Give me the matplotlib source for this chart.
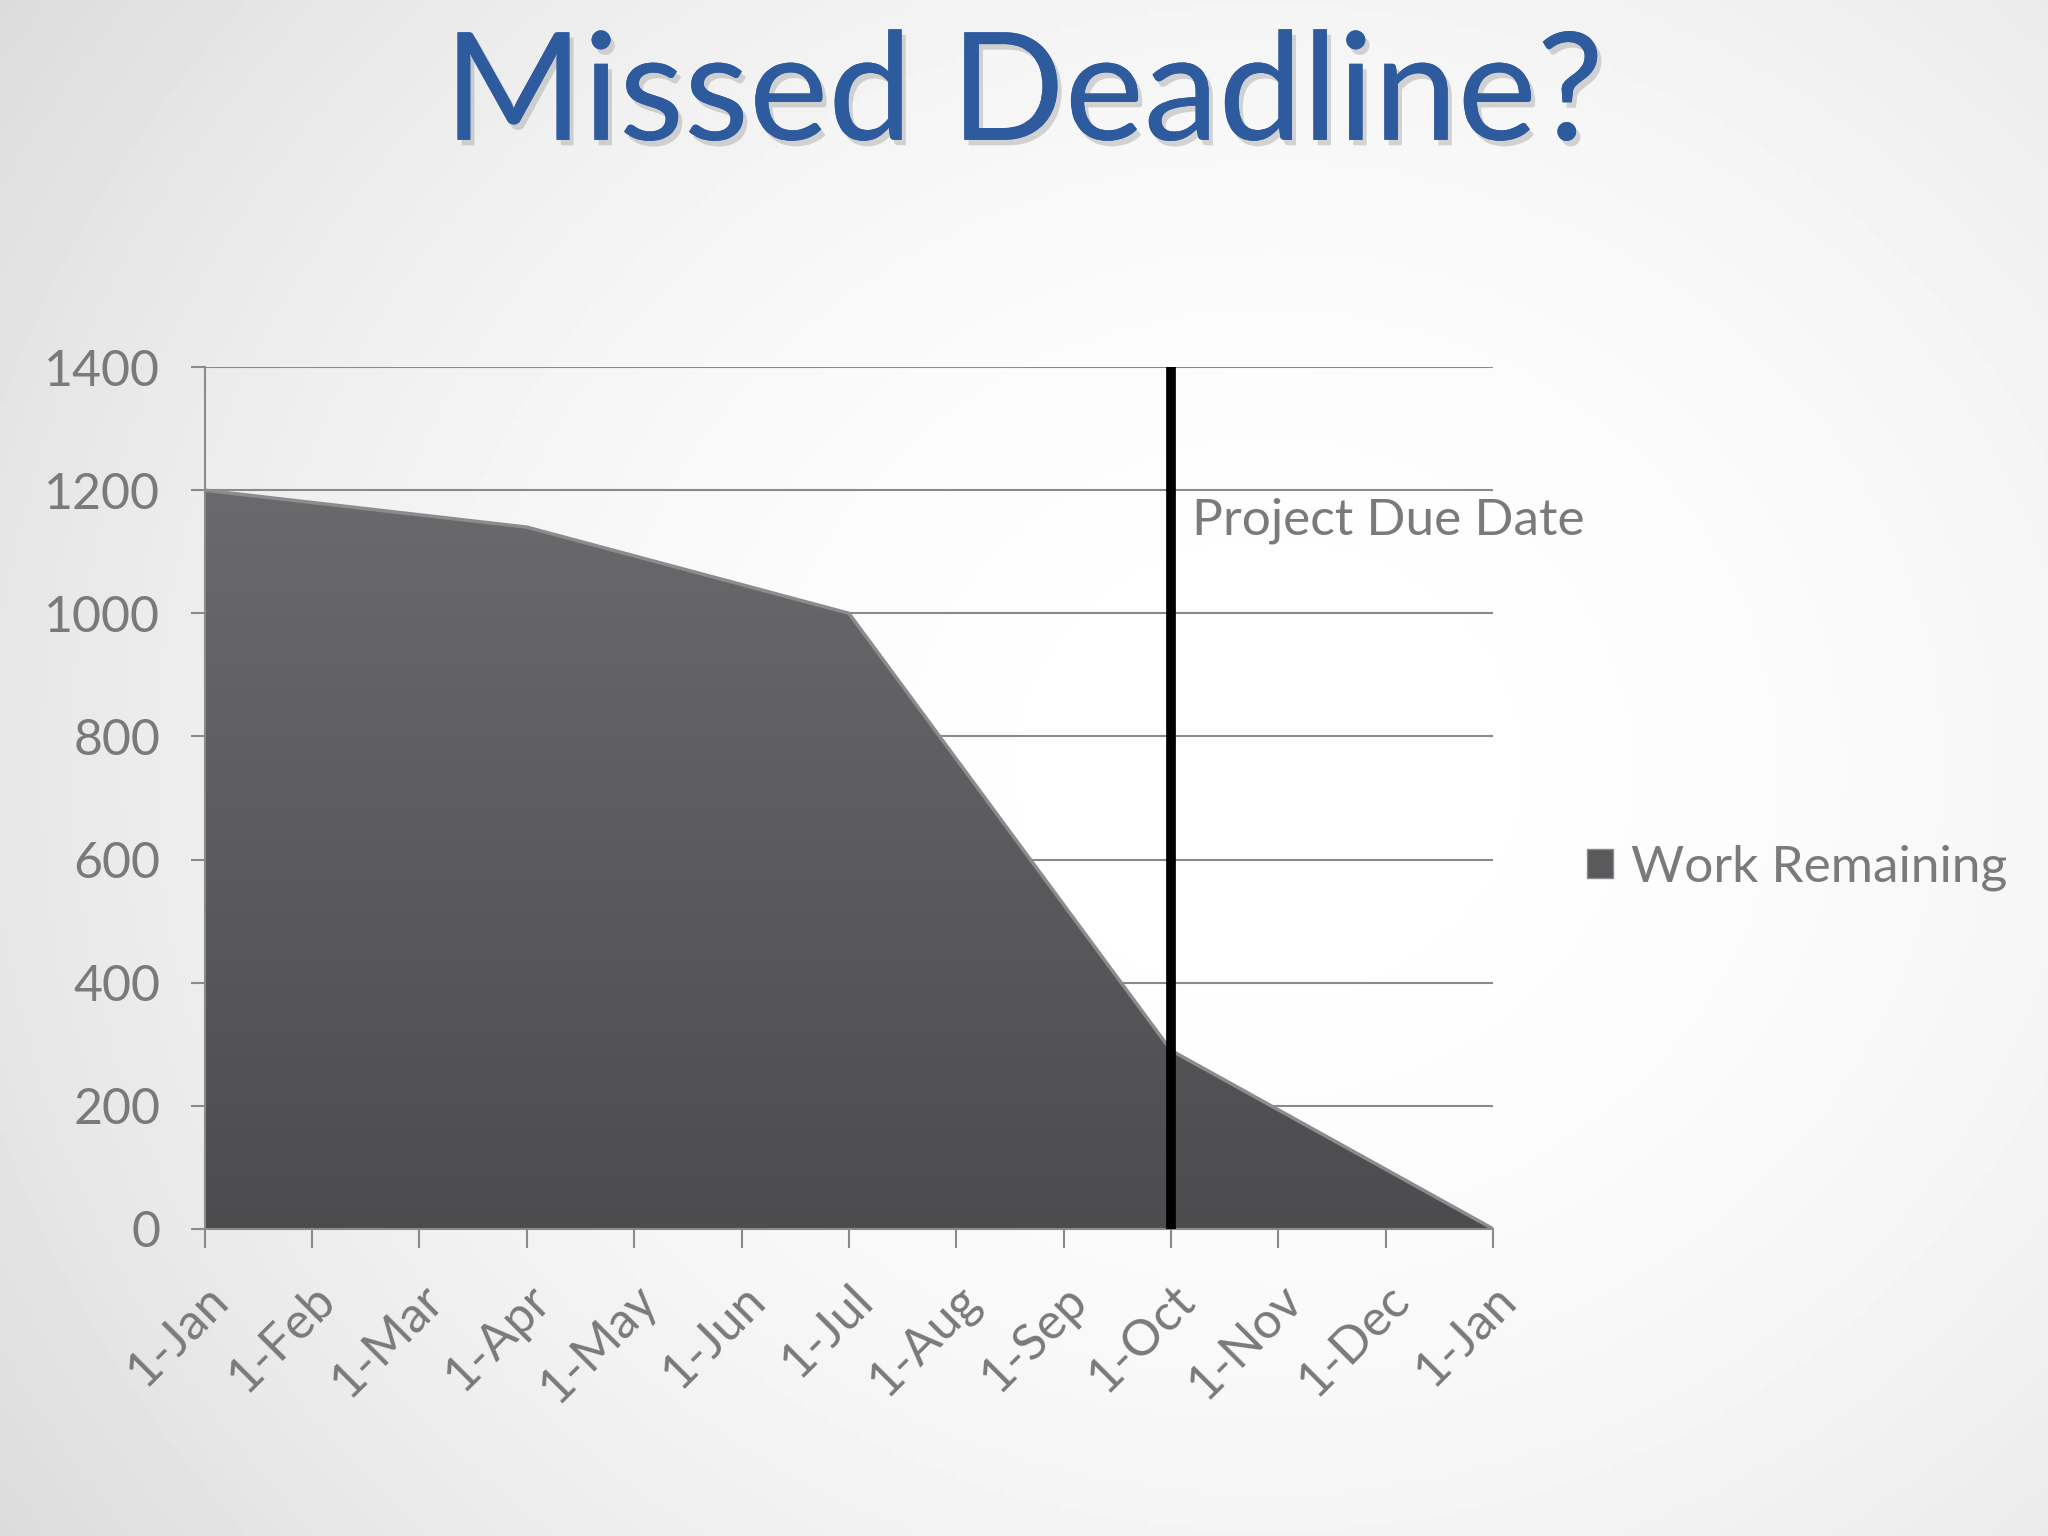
import numpy as np
import matplotlib
matplotlib.use('Agg')
import matplotlib.pyplot as plt
from matplotlib.patches import Patch
import matplotlib.patheffects as pe

# data
month_labels = ['1-Jan', '1-Feb', '1-Mar', '1-Apr', '1-May', '1-Jun', '1-Jul',
                '1-Aug', '1-Sep', '1-Oct', '1-Nov', '1-Dec', '1-Jan']
point_months = [0, 3, 6, 9, 12]
work_remaining = [1200, 1140, 1000, 290, 0]
due_month = 9
y_ticks = [0, 200, 400, 600, 800, 1000, 1200, 1400]

TEXT_GRAY = '#7a7a7a'
plt.rcParams['font.family'] = ['Lato', 'DejaVu Sans']

fig = plt.figure(figsize=(20.48, 15.36), dpi=100)

# slide background: soft radial gradient
bg = fig.add_axes([0, 0, 1, 1], zorder=-10)
gx, gy = np.meshgrid(np.linspace(0, 1, 400), np.linspace(0, 1, 300))
r = np.sqrt(((gx - 0.62) / 0.75) ** 2 + ((gy - 0.5) / 0.9) ** 2)
shade = 1.0 - 0.14 * np.clip(r, 0, 1.2) ** 2
bg.imshow(shade, cmap='gray', vmin=0, vmax=1, aspect='auto',
          extent=[0, 1, 0, 1], origin='lower')
bg.axis('off')

fig.text(0.5, 0.909, 'Missed Deadline?', ha='center', va='baseline',
         fontsize=108, color='#2E5B9E',
         path_effects=[pe.withSimplePatchShadow(offset=(3, -4), shadow_rgbFace='#9a9a9a', alpha=0.4),
                       pe.Normal()])

ax = fig.add_axes([0.100, 0.200, 0.629, 0.561])
ax.patch.set_alpha(0)

# area with vertical gradient clipped to the polygon
poly = ax.fill_between(point_months, work_remaining, 0, color='none', lw=0)
grad = np.linspace(0, 1, 256).reshape(-1, 1)
img = ax.imshow(grad, cmap=matplotlib.colors.LinearSegmentedColormap.from_list(
    'g', ['#4c4b4e', '#6a696c']), aspect='auto', origin='lower',
    extent=[0, 12, 0, 1200], zorder=2)
img.set_clip_path(poly.get_paths()[0], transform=ax.transData)
ax.plot(point_months, work_remaining, color='#8c8b8d', lw=2.5, zorder=3)

ax.axvline(due_month, ymin=0, ymax=1, color='black', lw=7, zorder=4)
ax.text(due_month + 0.2, 1150, 'Project Due Date', fontsize=37,
        color=TEXT_GRAY, va='center', ha='left', zorder=5)

ax.set_xlim(0, 12)
ax.set_ylim(0, 1400)
ax.set_yticks(y_ticks)
ax.set_yticklabels([str(v) for v in y_ticks])
ax.set_xticks(range(len(month_labels)))
ax.set_xticklabels(month_labels, rotation=45, ha='right', va='top',
                   rotation_mode='anchor')
ax.yaxis.grid(True, color='#8a8a8a', lw=1.5, zorder=1)
ax.set_axisbelow(True)
for s in ['top', 'right']:
    ax.spines[s].set_visible(False)
for s in ['left', 'bottom']:
    ax.spines[s].set_color('#8a8a8a')
    ax.spines[s].set_linewidth(1.5)
ax.tick_params(axis='y', length=10, width=1.5, color='#8a8a8a', pad=22,
               labelsize=36, labelcolor=TEXT_GRAY)
ax.tick_params(axis='x', length=14, width=1.5, color='#8a8a8a', pad=20,
               labelsize=36, labelcolor=TEXT_GRAY)

handle = Patch(facecolor='#5a595c', edgecolor='#8c8b8d')
fig.legend([handle], ['Work Remaining'], loc='center left',
           bbox_to_anchor=(0.775, 0.435), bbox_transform=fig.transFigure,
           frameon=False, fontsize=37, labelcolor=TEXT_GRAY,
           handlelength=0.5, handleheight=0.5, handletextpad=0.35,
           borderpad=0, borderaxespad=0)

fig.savefig('out.png', dpi=100)
